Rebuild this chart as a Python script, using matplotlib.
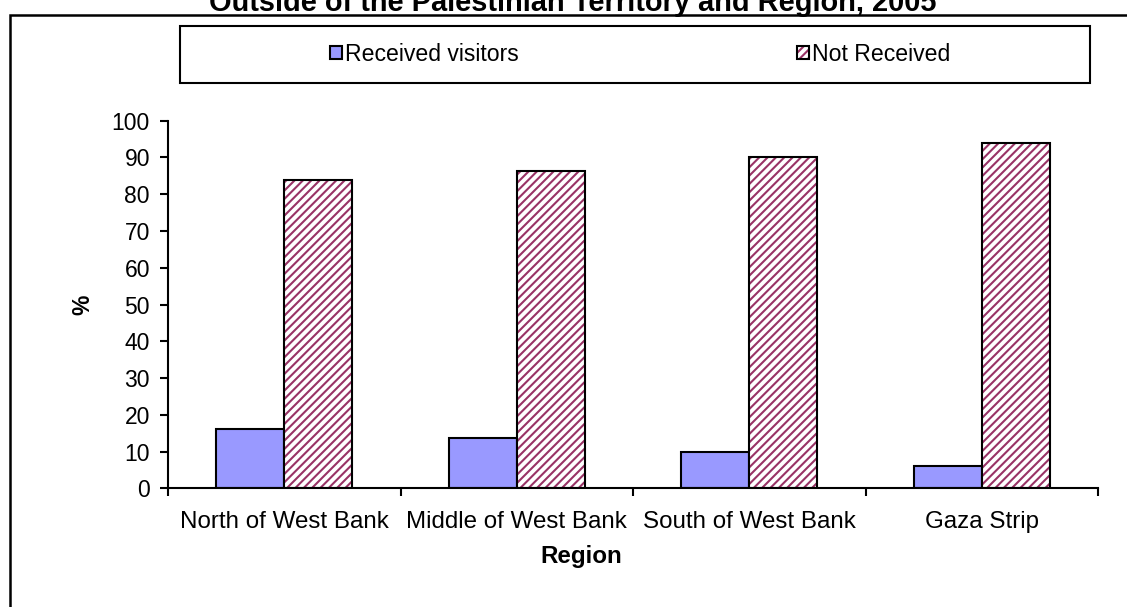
import matplotlib
matplotlib.use("Agg")
import matplotlib.pyplot as plt
from matplotlib.patches import Rectangle
from matplotlib.legend_handler import HandlerTuple
import numpy as np

# data
regions = ["North of West Bank", "Middle of West Bank", "South of West Bank", "Gaza Strip"]
received = [16.1, 13.6, 9.9, 6.0]
not_received = [83.9, 86.4, 90.1, 94.0]
yticks = [0, 10, 20, 30, 40, 50, 60, 70, 80, 90, 100]

BLUE = "#9999FF"
MAROON = "#993366"

plt.rcParams['font.family'] = ['Liberation Sans', 'DejaVu Sans']
plt.rcParams['hatch.linewidth'] = 1.5

W, H = 1127, 607
fig = plt.figure(figsize=(W / 100, H / 100), dpi=100)
ax = fig.add_axes([168 / W, 1 - 488.3 / H, (1098 - 168) / W, (488.3 - 120.7) / H])

x = np.arange(len(regions))
w = 0.293

b1 = ax.bar(x - w / 2, received, w, color=BLUE, edgecolor="black", linewidth=1.5)
# hatched layer (edge colour drives hatch colour), then a black outline on top
b2 = ax.bar(x + w / 2, not_received, w, color="white", edgecolor=MAROON, hatch="////", linewidth=0)
b3 = ax.bar(x + w / 2, not_received, w, fill=False, edgecolor="black", linewidth=1.5)

ax.set_xlim(-0.5, len(regions) - 0.5)
ax.set_ylim(0, 100)
ax.set_yticks(yticks)
ax.set_yticklabels([str(v) for v in yticks], fontsize=16.5)
ax.set_xticks(x)
ax.set_xticklabels(regions, fontsize=17.4)
ax.set_xticks(np.arange(len(regions) + 1) - 0.5, minor=True)
ax.tick_params(axis="x", which="major", length=0, pad=16)
ax.tick_params(axis="x", which="minor", length=6, width=1.5, direction="out")
ax.tick_params(axis="y", length=6, width=1.5, direction="out", pad=7)

for s in ["top", "right"]:
    ax.spines[s].set_visible(False)
for s in ["left", "bottom"]:
    ax.spines[s].set_linewidth(1.5)

fig.text(83 / W, 1 - 305 / H, "%", fontsize=16.5, fontweight="bold",
         rotation=90, ha="center", va="center")
fig.text(581 / W, 1 - 557 / H, "Region", fontsize=17.4, fontweight="bold", ha="center", va="center")

# legend
leg = fig.legend([b1[0], (b2[0], b3[0])], ["Received visitors", "Not Received"],
                 handler_map={tuple: HandlerTuple(ndivide=1)},
                 loc="center", bbox_to_anchor=(640 / W, 1 - 54.5 / H), ncol=2,
                 frameon=False, fontsize=16.6, handlelength=0.5, handleheight=0.5,
                 handletextpad=0.12, columnspacing=12.1, borderaxespad=0)
fig.add_artist(Rectangle((180 / W, 1 - 83 / H), (1090 - 180) / W, (83 - 26) / H,
                         transform=fig.transFigure, fill=False, edgecolor="black", linewidth=1.5))

# outer chart frame (runs past the right and bottom edges)
fig.add_artist(Rectangle((10 / W, -0.05), 1.2, 1 - 15 / H + 0.05,
                         transform=fig.transFigure, fill=False, edgecolor="black", linewidth=1.8))

fig.text(573 / W, 1 - 11 / H, "Outside of the Palestinian Territory and Region, 2005",
         fontsize=20.9, fontweight="bold", ha="center", va="baseline")

fig.savefig("out.png", dpi=100)
